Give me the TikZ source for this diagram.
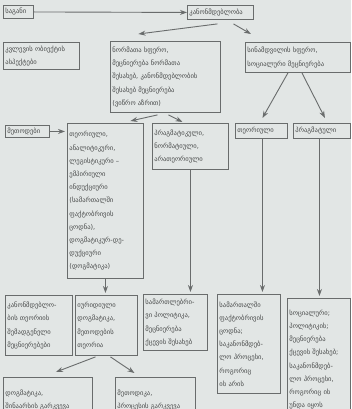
\documentclass[tikz,border=0pt]{standalone}
\usepackage{fontspec}
\newfontfamily\geo{DejaVu Sans}
\usetikzlibrary{arrows.meta}
\definecolor{bg}{RGB}{226,230,229}
\definecolor{ln}{RGB}{105,108,108}
\definecolor{tx}{RGB}{70,72,72}
\begin{document}
\begin{tikzpicture}[x=1pt,y=-1pt,
  bx/.style={draw=ln, line width=0.9pt, fill=bg, anchor=north west, align=left,
    inner xsep=2pt, inner ysep=2pt, text=tx, font=\geo\fontsize{6.6}{13.2}\selectfont},
  arr/.style={draw=ln, line width=0.9pt, -{Stealth[length=7pt,width=5pt]}}]
\fill[bg] (0,0) rectangle (351,409);
\clip (0,0) rectangle (351,409);
\node[bx, text width=26pt, minimum height=13pt] (b1) at (3,5) {საგანი};
\node[bx, text width=62pt, minimum height=14pt] (b2) at (187,5) {კანონმდებლობა};
\node[bx, text width=72pt, minimum height=27pt] (b3) at (3,42) {კვლევის ობიექტის\\ასპექტები};
\node[bx, text width=106pt, minimum height=71pt] (b4) at (110,41) {ნორმათა სფერო,\\მეცნიერება ნორმათა\\შესახებ, კანონმდებლობის\\შესახებ მეცნიერება\\(ვიწრო აზრით)};
\node[bx, text width=101pt, minimum height=30pt] (b5) at (245,42) {სინამდვილის სფერო,\\სოციალური მეცნიერება};
\node[bx, text width=40pt, minimum height=12pt] (b6) at (5,125) {მეთოდები};
\node[bx, text width=72pt, minimum height=155pt] (b7) at (67,123) {თეორიული,\\ანალიტიკური,\\ლეგისტიკური –\\ემპირიული\\ინდუქციური\\(სამართალში\\ფაქტობრივის\\ცოდნა),\\დოგმატიკურ-დე-\\დუქციური\\(დოგმატიკა)};
\node[bx, text width=72pt, minimum height=46pt] (b8) at (152,123) {პრაგმატიკული,\\ნორმატიული,\\არათეორიული};
\node[bx, text width=48pt, minimum height=15pt] (b9) at (235,123) {თეორიული};
\node[bx, text width=53pt, minimum height=15pt] (b10) at (293,123) {პრაგმატული};
\node[bx, text width=63pt, minimum height=60pt] (b11) at (5,295) {კანონმდებლო-\\ბის თეორიის\\შემადგენელი\\მეცნიერებები};
\node[bx, text width=58pt, minimum height=60pt] (b12) at (75,295) {იურიდიული\\დოგმატიკა,\\მეთოდების\\თეორია};
\node[bx, text width=60pt, minimum height=56pt] (b13) at (143,294) {სამართლებრი-\\ვი პოლიტიკა,\\მეცნიერება\\ქცევის შესახებ};
\node[bx, text width=59pt, minimum height=99pt] (b14) at (217,294) {სამართალში\\ფაქტობრივის\\ცოდნა;\\საკანონმდებ-\\ლო პროცესი,\\როგორიც\\ის არის};
\node[bx, text width=59pt, minimum height=122pt, anchor=north west] (b15) at (287,298) {სოციალური;\\პოლიტიკის;\\მეცნიერება\\ქცევის შესახებ;\\საკანონმდებ-\\ლო პროცესი,\\როგორიც ის\\უნდა იყოს\\ };
\node[bx, text width=85pt, minimum height=45pt] (b16) at (3,377) {დოგმატიკა,\\შინაარსის გარკვევა\\ };
\node[bx, text width=76pt, minimum height=45pt] (b17) at (115,377) {მეთოდიკა,\\პროცესის გარკვევა\\ };
% connectors
\draw[arr] (b1.east) -- (b2.west);
\draw[arr] ([xshift=-3pt,yshift=-4pt]b2.south) -- ([xshift=-27pt,yshift=7pt]b4.north);
\draw[arr] ([xshift=13pt,yshift=-4pt]b2.south) -- ([xshift=-47pt,yshift=8pt]b5.north);
\draw[arr] ([xshift=-8pt,yshift=-2pt]b4.south) -- ([xshift=25pt,yshift=2pt]b7.north);
\draw[arr] ([xshift=3pt,yshift=-2pt]b4.south) -- ([xshift=-8pt,yshift=1pt]b8.north);
\draw[arr] ([xshift=-10pt]b5.south) -- ([xshift=1pt,yshift=5pt]b9.north);
\draw[arr] ([xshift=4pt]b5.south) -- ([xshift=3pt,yshift=5pt]b10.north);
\draw[arr] (b6.east) -- ([xshift=-2pt]b6.east -| b7.west);
\draw[arr] ([xshift=0pt]b7.south) -- ([yshift=2pt]b7.south |- b12.north);
\draw[arr] (b8.south) -- ([yshift=2pt]b8.south |- b13.north);
\draw[arr] ([xshift=1pt]b9.south) -- ([xshift=1pt,yshift=2pt]b9.south |- b14.north);
\draw[arr] ([xshift=-2.5pt]b10.south) -- ([xshift=-2.5pt,yshift=2pt]b10.south |- b15.north);
\draw[arr] ([xshift=-11pt,yshift=-1pt]b12.south) -- ([xshift=8pt,yshift=5pt]b16.north);
\draw[arr] ([xshift=4pt,yshift=-1pt]b12.south) -- ([xshift=-21pt,yshift=4pt]b17.north);
\end{tikzpicture}
\end{document}
